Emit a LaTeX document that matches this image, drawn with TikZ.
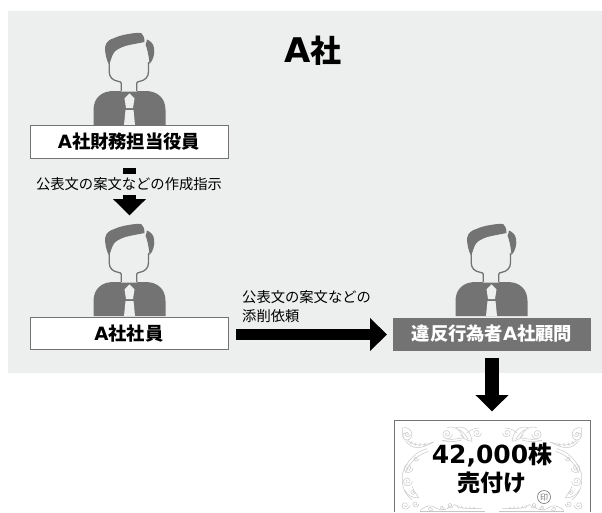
\documentclass[tikz,border=0pt]{standalone}
\usepackage{fontspec}
\newfontfamily\jp{Noto Sans CJK JP}
\newfontfamily\lat{DejaVu Sans}
\usetikzlibrary{arrows.meta}
\definecolor{panelgray}{HTML}{EDEEEE}
\definecolor{mangray}{HTML}{737373}
\definecolor{ornagray}{HTML}{C6C6C6}
\newcommand{\spiral}[4]{\draw[orna] plot[domain=0:#4,samples=36,smooth] ({#1+#3*(1-\x/(#4+90))*cos(\x)},{#2+#3*(1-\x/(#4+90))*sin(\x)});}
\newcommand{\ornamentside}{%
  \draw[orna] (30,30) .. controls (45,25) and (60,35) .. (60,50) .. controls (60,65) and (42,72) .. (34,60) .. controls (28,50) and (36,42) .. (44,46);
  \draw[orna] (30,30) -- (34,60);
  \spiral{46}{48}{9}{450}
  \draw[orna] (40,68) .. controls (60,95) and (85,95) .. (125,72);
  \draw[orna] (46,66) .. controls (65,85) and (90,85) .. (125,72);
  \draw[orna] (55,78) -- (60,70) (68,84) -- (72,74) (82,85) -- (86,76) (96,84) -- (100,75);
  \draw[orna] (105,92) .. controls (75,100) and (45,125) .. (32,165) .. controls (28,195) and (32,225) .. (60,245);
  \draw[orna] (110,100) .. controls (80,108) and (55,130) .. (40,165);
  \draw[orna] (38,215) .. controls (45,232) and (60,240) .. (80,240) .. controls (72,225) and (65,220) .. (60,205);
  \spiral{48}{150}{15}{630}
  \spiral{46}{190}{15}{630}
  \spiral{72}{122}{8}{450}
  \spiral{62}{222}{8}{450}
  \spiral{40}{262}{13}{540}
  \spiral{70}{258}{10}{540}
  \spiral{165}{48}{16}{630}
  \spiral{255}{45}{13}{540}
  \draw[orna] (165,30) .. controls (185,20) and (205,35) .. (215,60) .. controls (195,62) and (175,65) .. (150,68);
  \draw[orna] (190,30) .. controls (210,22) and (235,30) .. (240,70) .. controls (225,68) and (215,62) .. (205,50);
  \draw[orna] (200,34) .. controls (212,40) and (222,52) .. (228,64);
  \draw[orna] (225,45) .. controls (235,35) and (250,30) .. (262,30);
  \draw[orna] (150,68) .. controls (170,72) and (190,72) .. (210,66);
  \draw[orna] (85,278) .. controls (100,262) and (120,258) .. (135,272) .. controls (150,280) and (165,275) .. (180,262);
  \spiral{115}{272}{8}{450}
  \spiral{150}{268}{7}{450}
  \spiral{175}{262}{9}{540}
  \draw[orna] (185,258) .. controls (205,275) and (230,270) .. (270,272);
  \draw[orna] (195,262) -- (200,272) (208,264) -- (212,272) (220,266) -- (224,272) (232,266) -- (236,272) (244,268) -- (248,272);
  \draw[orna] (85,280) -- (280,280);
}
\tikzset{
  man/.pic={
    \fill[mangray] (-36,0) -- (-36,-15) .. controls (-36,-27) and (-28,-34) .. (-16,-34) -- (16,-34) .. controls (28,-34) and (36,-27) .. (36,-15) -- (36,0) -- cycle;
    \fill[panelgray] (-5.5,0) -- (-4,-15) -- (4,-15) -- (5.5,0) -- cycle;
    \fill[panelgray] (0,-31.7) -- (5,-26.7) -- (3.5,-17) -- (-3.5,-17) -- (-5,-26.7) -- cycle;
    \fill[panelgray] (-8.3,-33.5) rectangle (7.3,-44) (-20.3,-44) rectangle (19,-70);
    \draw[mangray,line width=1.3pt] (-8.3,-34) -- (-8.3,-41.7) .. controls (-8.3,-43) and (-9.3,-43.3) .. (-11,-43.6) .. controls (-17,-44.5) and (-20.3,-48) .. (-20.3,-53.3) -- (-20.3,-63);
    \draw[mangray,line width=1.3pt] (7.3,-34) -- (7.3,-41.7) .. controls (7.3,-43) and (8.3,-43.3) .. (10,-43.6) .. controls (15.5,-44.5) and (19,-48) .. (19,-53.3) -- (19,-63);
    \fill[mangray] (-20.3,-60) .. controls (-23,-65) and (-24.8,-72) .. (-24.3,-78.3) .. controls (-23.5,-83) and (-20,-85.5) .. (-16,-86.7) .. controls (-11,-89) and (-5,-90.5) .. (-1,-91) .. controls (4,-92) and (10,-92.5) .. (12,-91.7) .. controls (14,-90) and (15,-87) .. (15,-83) .. controls (8,-81.5) and (1,-80.5) .. (-4.3,-79) .. controls (-10,-77) and (-14,-75) .. (-16,-71.7) .. controls (-18,-68) and (-19,-64) .. (-20.3,-60) -- cycle;
    \fill[mangray] (17.3,-85.5) .. controls (21,-84) and (24,-81.5) .. (24.5,-77) .. controls (25.5,-72) and (24,-65) .. (20,-61) .. controls (19.5,-67) and (18.5,-72) .. (18,-74) .. controls (17.5,-77) and (16.5,-79) .. (16,-80.5) .. controls (17,-82) and (17.3,-84) .. (17.3,-85.5) -- cycle;
  },
  whitebox/.style={draw=mangray,line width=.9pt,fill=white,minimum width=198pt,minimum height=32.5pt,inner sep=0pt,font=\jp\bfseries\fontsize{18.3}{20}\selectfont},
  graybox/.style={fill=mangray,text=white,minimum width=198pt,minimum height=33pt,inner sep=0pt,font=\jp\bfseries\fontsize{18.3}{20}\selectfont},
  bigarrow/.style={draw=black,line width=#1},
  smalltext/.style={inner sep=0pt,font=\jp\fontsize{14.3}{19}\selectfont},
  orna/.style={draw=ornagray,line width=.5pt},
}
\begin{document}
\begin{tikzpicture}[x=1pt,y=-1pt]
\useasboundingbox (0,0) rectangle (602,512);
\fill[panelgray] (8,11) rectangle (602,373);
\node[inner sep=0pt,font=\jp\bfseries\fontsize{31}{33}\selectfont] (title) at (313,51) {{\lat\bfseries\fontsize{34}{33}\selectfont A}社};
\pic at (129.5,125) {man};
\pic at (129.5,316) {man};
\pic at (491.5,316) {man};
\node[whitebox] (b1) at (129,142) {{\lat\bfseries A}社財務担当役員};
\node[whitebox] (b2) at (129,333.5) {{\lat\bfseries A}社社員};
\node[graybox] (b3) at (492,334) {違反行為者{\lat\bfseries A}社顧問};
% certificate
\begin{scope}
\clip (394,420) rectangle (590,512);
\begin{scope}[shift={(392,418)},x=.3333pt,y=-.3333pt]
\ornamentside
\end{scope}
\begin{scope}[shift={(592,418)},x=-.3333pt,y=-.3333pt]
\ornamentside
\end{scope}
\end{scope}
\draw[mangray,line width=.9pt] (394,512) -- (394,420.5) -- (590,420.5) -- (590,512);
\node[inner sep=0pt,font=\jp\bfseries\fontsize{24}{28}\selectfont] (cert1) at (492,455.5) {{\lat\bfseries\fontsize{25}{28}\selectfont 42,000}株};
\node[inner sep=0pt,font=\jp\bfseries\fontsize{23}{25}\selectfont] (cert2) at (492,483) {売付け};
\node[circle,draw=mangray,line width=.6pt,fill=white,minimum size=13pt,inner sep=0pt,font=\jp\fontsize{8}{9}\selectfont,text=mangray] (stamp) at (544,497) {印};
% arrows
\coordinate (a1s) at (129.5,167.5);
\coordinate (a1e) at (129.5,215.5);
\coordinate (a2s) at (236,334.5);
\coordinate (a2e) at (387,334.5);
\coordinate (a3s) at (492,358);
\coordinate (a3e) at (492,411.5);
\draw[bigarrow=13pt,-{Triangle[length=16.5pt,width=32pt]}] (a1s) -- (a1e);
\draw[bigarrow=11.5pt,-{Triangle[length=17pt,width=32pt]}] (a2s) -- (a2e);
\draw[bigarrow=13.5pt,-{Triangle[length=16.5pt,width=32pt]}] (a3s) -- (a3e);
\node[smalltext,fill=panelgray,minimum height=21pt] (t1) at (129,184.5) {公表文の案文などの作成指示};
\node[smalltext,align=left,anchor=west] (t2) at (242,306.5) {公表文の案文などの\\添削依頼};
\end{tikzpicture}
\end{document}
